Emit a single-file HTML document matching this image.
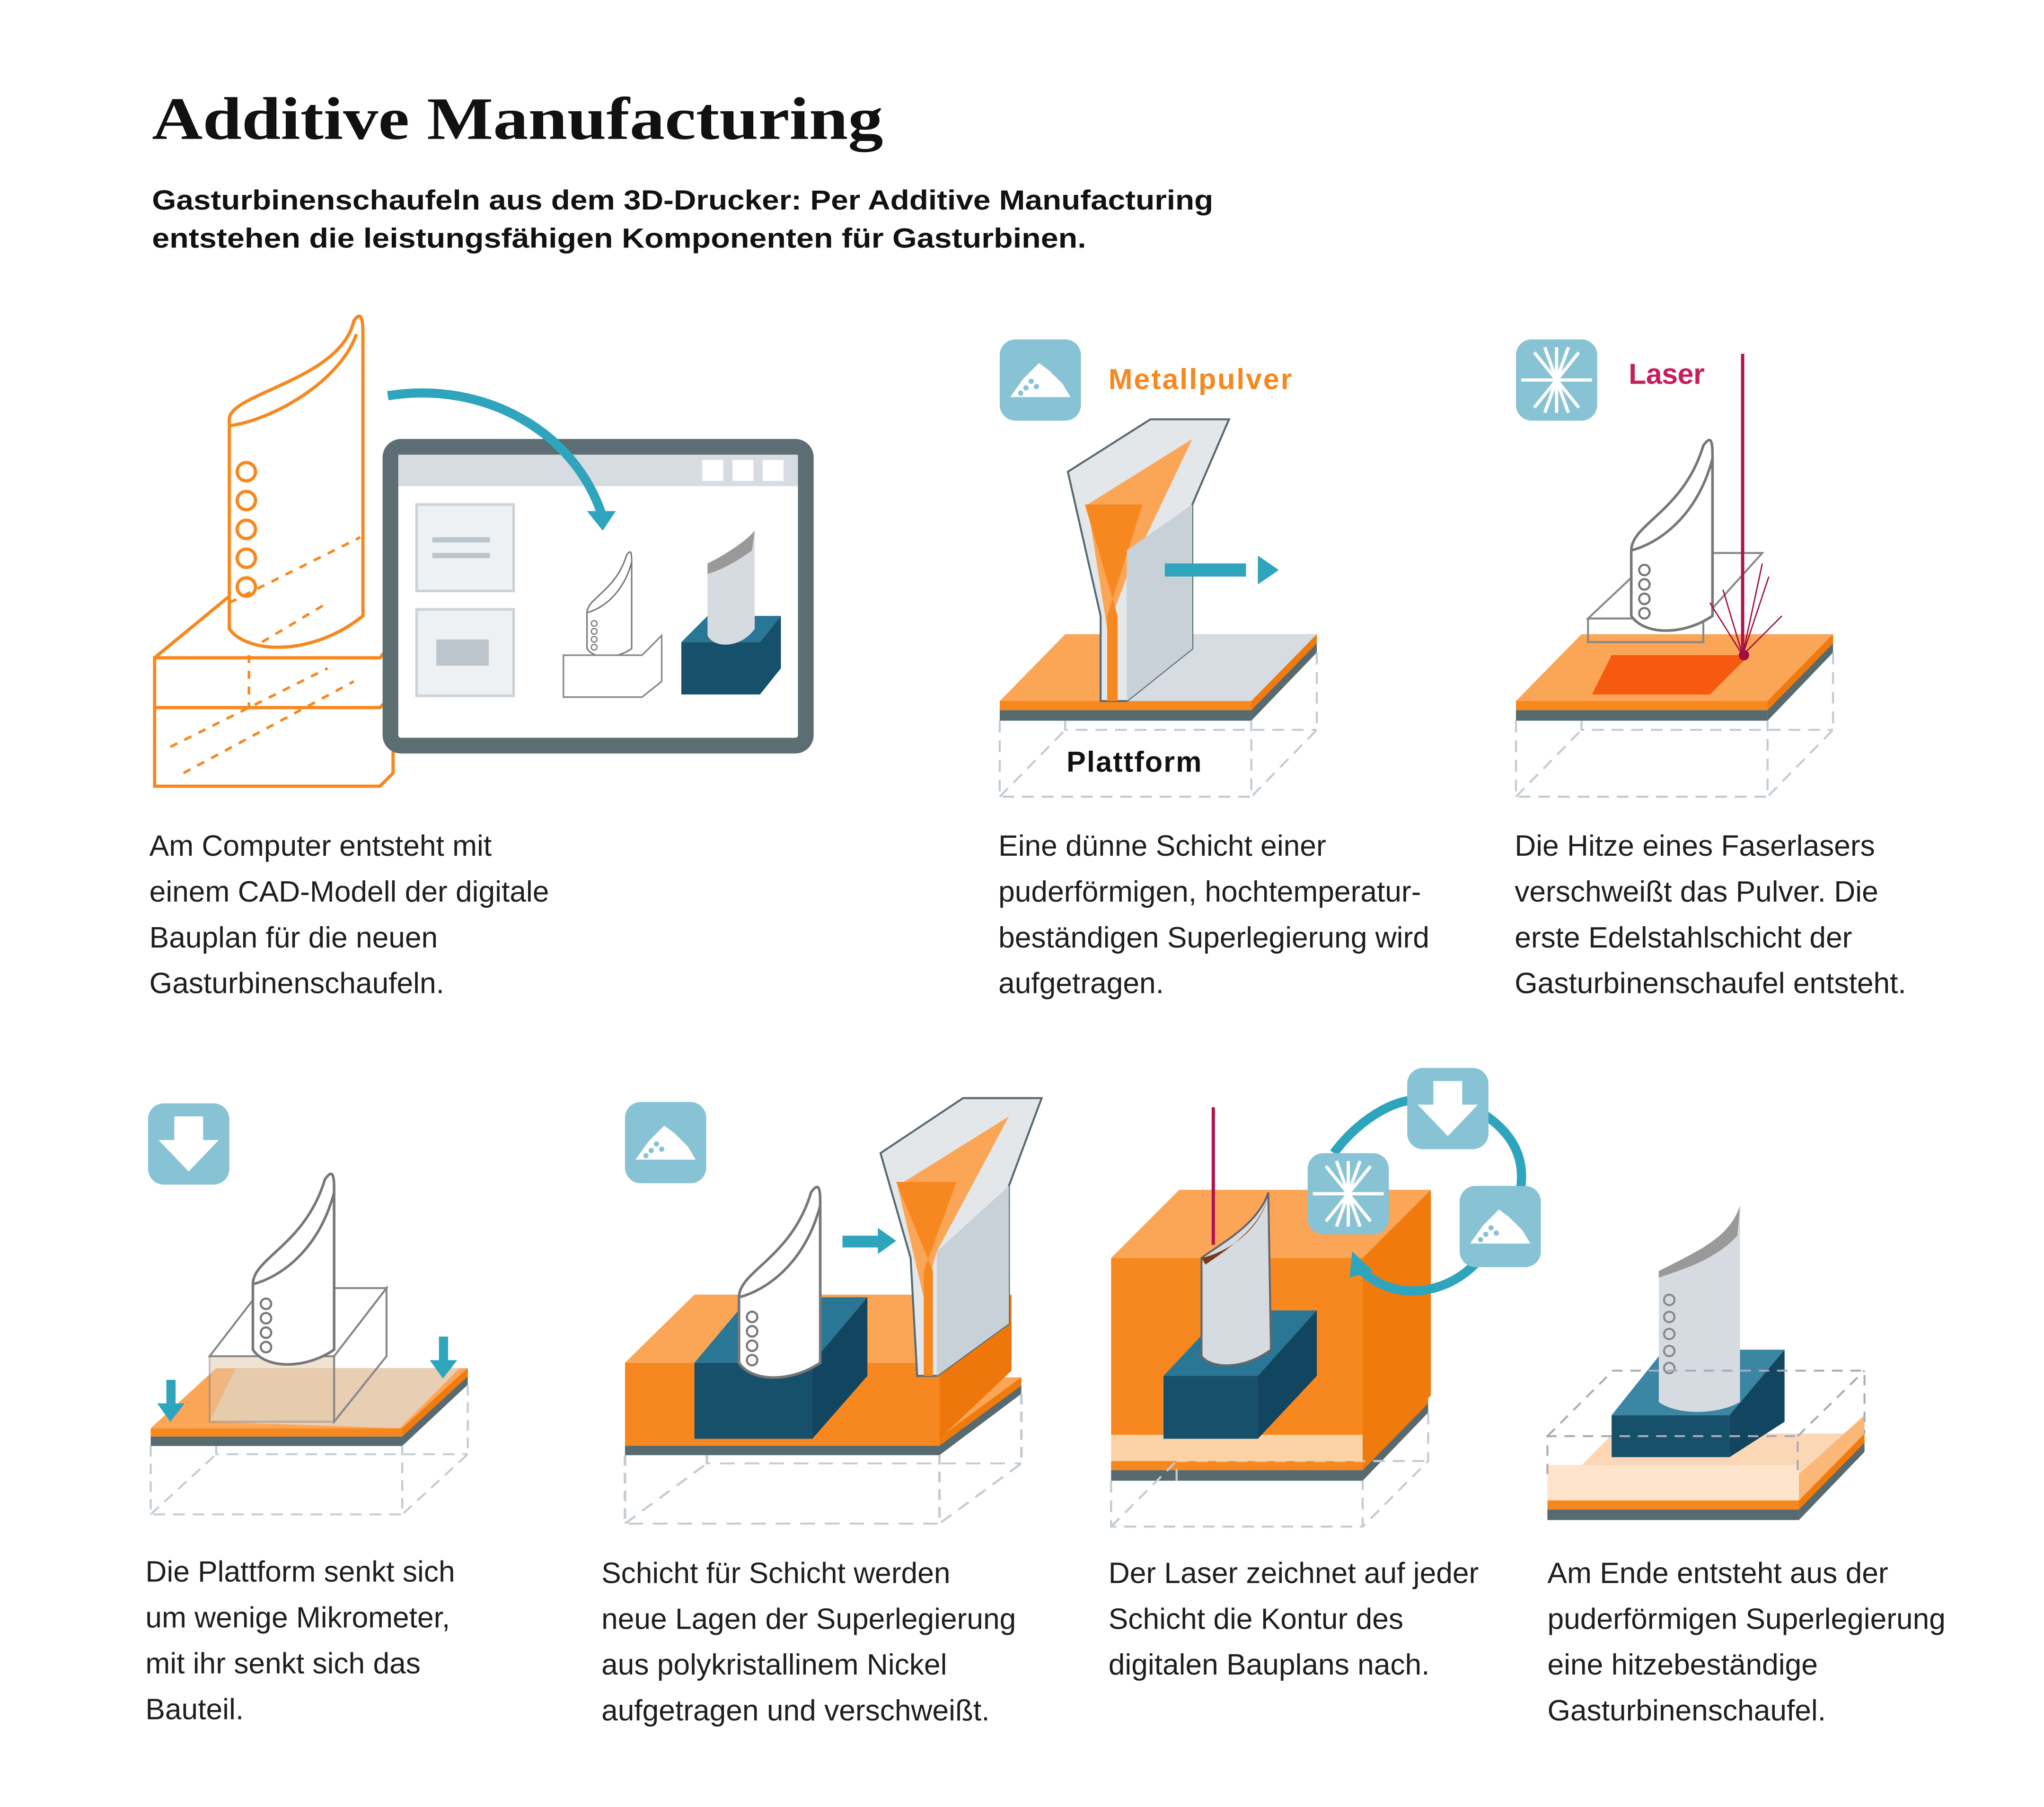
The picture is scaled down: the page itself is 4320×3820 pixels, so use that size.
<!DOCTYPE html>
<html><head><meta charset="utf-8"><style>
html,body{margin:0;padding:0;background:#fff;}
svg{display:block;}
.t{font-family:"Liberation Sans",sans-serif;font-size:22.5px;fill:#1e1e1e;}
</style></head><body>
<svg width="4320" height="3820" viewBox="0 0 1560 1379" preserveAspectRatio="none" xmlns="http://www.w3.org/2000/svg">
<defs>
<g id="platb">
<polygon points="0,0 192,0 242,-51 50,-51" fill="#fba557"/>
<rect x="0" y="0" width="192" height="7" fill="#f7881f"/>
<rect x="0" y="7" width="192" height="8" fill="#566a70"/>
<polygon points="192,0 242,-51 242,-37 192,15" fill="#566a70"/>
<polygon points="192,0 242,-51 242,-44 192,7" fill="#f07a0c"/>
</g>
<g id="plat">
<use href="#platb"/>
<g fill="none" stroke="#c3ccd3" stroke-width="1.6" stroke-dasharray="9,6">
<polyline points="0,15 0,73 192,73 192,15"/>
<polyline points="242,-37 242,22 192,73"/>
<polyline points="50,15 50,22 242,22"/>
<line x1="0" y1="73" x2="50" y2="22"/>
</g>
</g>
<g id="plats">
<use href="#platb"/>
<g fill="none" stroke="#c3ccd3" stroke-width="1.6" stroke-dasharray="9,6">
<polyline points="0,15 0,50 192,50 192,15"/>
<polyline points="242,-37 242,0 192,50"/>
<polyline points="50,15 50,0 242,0"/>
<line x1="0" y1="50" x2="50" y2="0"/>
</g>
</g>
<g id="blade" fill="#fff" stroke="#777" stroke-width="2">
<path d="M0,50 C0,30 40,20 55,-30 C62,-40 62,-30 62,-20 L62,100 C40,115 10,115 0,100 Z"/>
<path d="M0,50 C20,45 50,25 62,-20" fill="none"/>
<g fill="none" stroke-width="1.6"><circle cx="10" cy="65" r="4"/><circle cx="10" cy="76" r="4"/><circle cx="10" cy="87" r="4"/><circle cx="10" cy="98" r="4"/></g>
</g>
<g id="icon"><rect x="0" y="0" width="62" height="62" rx="12" fill="#87c3d4"/></g>
<g id="pile"><path d="M8,44 L18,30 L30,18 L38,24 L48,34 L54,44 Z" fill="#fff"/><g fill="#87c3d4"><circle cx="24" cy="32" r="2"/><circle cx="20" cy="37" r="2"/><circle cx="28" cy="36" r="2"/><circle cx="16" cy="41" r="2"/></g></g>
<g id="star" stroke="#fff" stroke-width="2.5"><line x1="4" y1="31" x2="58" y2="31"/><line x1="31" y1="6" x2="31" y2="56"/><line x1="14" y1="10" x2="48" y2="52"/><line x1="48" y1="10" x2="14" y2="52"/><line x1="22" y1="6" x2="40" y2="56"/><line x1="40" y1="6" x2="22" y2="56"/></g>
<g id="down"><rect x="0" y="0" width="62" height="62" rx="12" fill="#87c3d4"/><polygon points="20,10 42,10 42,28 54,28 31,52 8,28 20,28" fill="#fff"/></g>
</defs>

<text x="116" y="106" font-family="Liberation Serif,serif" font-weight="bold" font-size="46" fill="#111" textLength="558" lengthAdjust="spacingAndGlyphs">Additive Manufacturing</text>
<text x="116" y="160" font-family="Liberation Sans,sans-serif" font-weight="bold" font-size="21" fill="#111" textLength="810" lengthAdjust="spacingAndGlyphs">Gasturbinenschaufeln aus dem 3D-Drucker: Per Additive Manufacturing</text>
<text x="116" y="189" font-family="Liberation Sans,sans-serif" font-weight="bold" font-size="21" fill="#111" textLength="713" lengthAdjust="spacingAndGlyphs">entstehen die leistungsfähigen Komponenten für Gasturbinen.</text>

<!-- Panel 1 -->
<g fill="none" stroke="#f7881f" stroke-width="2.5">
<path d="M175,320 C175,300 260,290 270,245 C276,236 277,245 277,255 L277,470 C240,500 190,500 175,480 Z"/>
<path d="M175,325 C210,320 260,290 272,255"/>
<circle cx="188" cy="360" r="7"/><circle cx="188" cy="382" r="7"/><circle cx="188" cy="404" r="7"/><circle cx="188" cy="426" r="7"/><circle cx="188" cy="448" r="7"/>
<polygon points="118,502 290,502 300,490 300,530 290,540 118,540"/>
<polyline points="118,502 175,455 M277,455 300,455 300,490"/>
<path d="M118,540 L118,600 L290,600 L300,590 L300,540"/>
<g stroke-dasharray="6,6" stroke-width="2"><path d="M175,460 L275,410 M200,490 L250,460 M130,570 L250,510 M140,590 L270,520 M190,500 L190,540"/></g>
</g>
<rect x="298" y="341" width="317" height="228" rx="8" fill="#fff" stroke="#5d6d74" stroke-width="12"/>
<rect x="304" y="347" width="305" height="24" fill="#d6dce1"/>
<rect x="536" y="351" width="16" height="16" fill="#fff"/><rect x="559" y="351" width="16" height="16" fill="#fff"/><rect x="582" y="351" width="16" height="16" fill="#fff"/>
<rect x="318" y="385" width="74" height="66" fill="#eef1f3" stroke="#ccd3d8" stroke-width="2"/>
<rect x="330" y="410" width="44" height="4" fill="#bcc5cc"/><rect x="330" y="422" width="44" height="4" fill="#bcc5cc"/>
<rect x="318" y="465" width="74" height="66" fill="#eef1f3" stroke="#ccd3d8" stroke-width="2"/>
<rect x="333" y="488" width="40" height="20" fill="#bcc5cc"/>
<path d="M296,302 C370,290 440,330 460,395" fill="none" stroke="#2fa5bd" stroke-width="7"/>
<polygon points="448,390 470,390 460,405" fill="#2fa5bd"/>
<g transform="translate(448,440) scale(0.55)" ><use href="#blade"/></g>
<polygon points="430,500 490,500 505,485 505,520 490,532 430,532" fill="#fff" stroke="#888" stroke-width="1.2"/>
<polygon points="520,490 580,490 596,470 596,510 580,530 520,530" fill="#17506a"/>
<polygon points="520,490 580,490 596,470 540,470" fill="#2a7795"/>
<path d="M540,430 C560,420 572,410 576,405 L576,480 C565,495 545,495 540,485 Z" fill="#d5dbe0"/>
<path d="M540,430 C560,420 572,410 576,405 L574,420 C560,430 550,435 540,438Z" fill="#999"/>

<!-- Panel 2 -->
<use href="#icon" x="763" y="259"/><use href="#pile" x="763" y="259"/>
<text x="846" y="297" font-family="Liberation Sans,sans-serif" font-weight="bold" font-size="22" fill="#f7881f" textLength="140">Metallpulver</text>
<use href="#plat" x="763" y="535"/>
<polygon points="855,535 955,535 1005,484 905,484" fill="#d6dce1"/>
<polygon points="815,360 878,320 938,320 910,385 910,495 860,535 840,535 840,470" fill="#e3e7ea" stroke="#566a70" stroke-width="1.5"/>
<polygon points="830,385 910,335 860,440 845,480" fill="#fba557"/>
<polygon points="828,385 872,385 845,470 845,535 853,535 853,470" fill="#f7881f"/>
<polygon points="860,420 910,385 910,495 860,535" fill="#c8d0d8"/>
<rect x="889" y="430" width="62" height="10" fill="#2fa5bd"/><polygon points="960,424 976,435 960,446" fill="#2fa5bd"/>
<text x="814" y="589" font-family="Liberation Sans,sans-serif" font-weight="bold" font-size="22" fill="#111" textLength="103">Plattform</text>

<!-- Panel 3 -->
<use href="#icon" x="1157" y="259"/><use href="#star" x="1157" y="259"/>
<text x="1243" y="293" font-family="Liberation Sans,sans-serif" font-weight="bold" font-size="22" fill="#c41f5a" textLength="58">Laser</text>
<use href="#plat" x="1157" y="535"/>
<polygon points="1215,530 1305,530 1335,500 1230,500" fill="#f55a0f"/>
<polygon points="1212,472 1300,472 1345,422 1265,422" fill="#fff" stroke="#888" stroke-width="1.5"/>
<polygon points="1212,472 1300,472 1300,490 1212,490" fill="none" stroke="#888" stroke-width="1.5"/>
<g transform="translate(1245,370)"><use href="#blade"/></g>
<line x1="1330" y1="270" x2="1330" y2="500" stroke="#b0124f" stroke-width="2.5"/>
<g stroke="#a0103f" stroke-width="1"><line x1="1330" y1="500" x2="1350" y2="440"/><line x1="1330" y1="500" x2="1305" y2="460"/><line x1="1330" y1="500" x2="1360" y2="470"/><line x1="1330" y1="500" x2="1315" y2="450"/><line x1="1330" y1="500" x2="1345" y2="430"/></g>
<circle cx="1331" cy="500" r="4" fill="#a0103f"/>

<!-- Bottom 1 -->
<use href="#down" x="113" y="842"/>
<g transform="translate(115,1090) scale(1,0.9)"><use href="#plat"/></g>
<polygon points="160,1085 305,1090 351,1044 180,1044" fill="#e6d3bd" opacity="0.9"/>
<polygon points="160,1035 255,1035 295,983 200,983" fill="#fff" stroke="#888" stroke-width="1.5"/>
<polygon points="160,1035 255,1035 255,1085 160,1085" fill="#e5c9a8" opacity="0.5" stroke="#888" stroke-width="1.5"/>
<polygon points="255,1035 295,983 295,1035 255,1085" fill="none" stroke="#888" stroke-width="1.5"/>
<g transform="translate(193,930)"><use href="#blade"/></g>
<rect x="127" y="1053" width="7" height="22" fill="#2fa5bd"/><polygon points="120,1071 141,1071 130,1085" fill="#2fa5bd"/>
<rect x="335" y="1020" width="7" height="22" fill="#2fa5bd"/><polygon points="328,1038 349,1038 338,1052" fill="#2fa5bd"/>

<!-- Bottom 2 -->
<use href="#icon" x="477" y="841"/><use href="#pile" x="477" y="841"/>
<g transform="translate(477,1097) scale(1.25,0.9)"><use href="#plat"/></g>
<polygon points="477,1040 717,1040 772,988 530,988" fill="#fba557"/>
<rect x="477" y="1040" width="240" height="58" fill="#f7881f"/>
<polygon points="717,1040 772,988 772,1046 717,1098" fill="#ee760a"/>
<polygon points="530,1040 620,1040 662,990 572,990" fill="#2a7795"/>
<polygon points="530,1040 620,1040 620,1098 530,1098" fill="#17506a"/>
<polygon points="620,1040 662,990 662,1050 620,1098" fill="#124660"/>
<g transform="translate(564,940)"><use href="#blade"/></g>
<polygon points="672,880 735,838 795,838 770,905 770,1010 715,1050 700,1050 695,960" fill="#e3e7ea" stroke="#566a70" stroke-width="1.5"/>
<polygon points="685,905 770,852 715,955 705,990" fill="#fba557"/>
<polygon points="684,902 730,902 705,970 705,1050 712,1050 712,970" fill="#f7881f"/>
<polygon points="715,955 770,905 770,1010 715,1050" fill="#c8d0d8"/>
<rect x="643" y="943" width="28" height="9" fill="#2fa5bd"/><polygon points="670,937 684,947 670,957" fill="#2fa5bd"/>

<!-- Bottom 3 -->
<g transform="translate(848,1115)"><use href="#plats"/></g>
<polygon points="848,960 1040,960 1092,908 900,908" fill="#fba557"/>
<rect x="848" y="960" width="192" height="135" fill="#f7881f"/>
<rect x="848" y="1095" width="192" height="20" fill="#fdd2a6"/>
<polygon points="1040,960 1092,908 1092,1065 1040,1115" fill="#f07a0c"/>
<polygon points="888,1050 960,1050 1005,1000 935,1000" fill="#2a7795"/>
<polygon points="888,1050 960,1050 960,1098 888,1098" fill="#17506a"/>
<polygon points="960,1050 1005,1000 1005,1050 960,1098" fill="#124660"/>
<path d="M917,960 C930,950 960,935 968,910 L970,1030 C950,1045 925,1045 917,1035 Z" fill="#d5dbe0" stroke="#666" stroke-width="1.5"/>
<path d="M917,960 C940,955 965,935 968,910 C965,930 950,945 920,965 Z" fill="#7a3a15"/>
<line x1="926" y1="845" x2="926" y2="950" stroke="#b0124f" stroke-width="2.5"/>
<path d="M1035,965 C1060,995 1105,990 1130,960" fill="none" stroke="#2fa5bd" stroke-width="7"/>
<path d="M1018,880 C1040,850 1070,838 1080,840 M1132,850 C1155,865 1165,885 1160,910" fill="none" stroke="#2fa5bd" stroke-width="7"/>
<polygon points="1032,955 1048,970 1030,975" fill="#2fa5bd"/>
<use href="#down" x="1074" y="815"/>
<use href="#icon" x="998" y="880"/><use href="#star" x="998" y="880"/>
<use href="#icon" x="1114" y="905"/><use href="#pile" x="1114" y="905"/>

<!-- Bottom 4 -->
<use href="#platb" x="1181" y="1145"/>
<polygon points="1181,1145 1373,1145 1423,1094 1231,1094" fill="#fcd7b5"/>
<rect x="1181" y="1118" width="192" height="27" fill="#fde4cb"/>
<polygon points="1373,1145 1423,1094 1423,1080 1373,1125" fill="#fbb777"/>
<polygon points="1230,1080 1320,1080 1362,1030 1270,1030" fill="#3a86a3"/>
<polygon points="1230,1080 1320,1080 1320,1112 1230,1112" fill="#17506a"/>
<polygon points="1320,1080 1362,1030 1362,1085 1320,1112" fill="#124660"/>
<path d="M1266,970 C1295,955 1320,945 1328,920 L1328,1070 C1310,1080 1280,1080 1266,1070 Z" fill="#d5dbe0"/>
<path d="M1266,970 C1295,955 1320,945 1328,920 L1326,943 C1310,960 1290,967 1266,975Z" fill="#999"/>
<g fill="none" stroke="#888" stroke-width="1.5"><circle cx="1274" cy="992" r="4"/><circle cx="1274" cy="1005" r="4"/><circle cx="1274" cy="1018" r="4"/><circle cx="1274" cy="1031" r="4"/><circle cx="1274" cy="1044" r="4"/></g>
<g fill="none" stroke="#aab" stroke-width="1.5" stroke-dasharray="8,6"><polyline points="1181,1125 1181,1096 1372,1096 1372,1125"/><polyline points="1181,1096 1231,1046 1423,1046 1423,1094"/><line x1="1372" y1="1096" x2="1423" y2="1046"/></g>

<!-- captions -->
<g class="t">
<text x="114" y="653">Am Computer entsteht mit</text><text x="114" y="688">einem CAD-Modell der digitale</text><text x="114" y="723">Bauplan für die neuen</text><text x="114" y="758">Gasturbinenschaufeln.</text>
<text x="762" y="653">Eine dünne Schicht einer</text><text x="762" y="688">puderförmigen, hochtemperatur-</text><text x="762" y="723">beständigen Superlegierung wird</text><text x="762" y="758">aufgetragen.</text>
<text x="1156" y="653">Die Hitze eines Faserlasers</text><text x="1156" y="688">verschweißt das Pulver. Die</text><text x="1156" y="723">erste Edelstahlschicht der</text><text x="1156" y="758">Gasturbinenschaufel entsteht.</text>
<text x="111" y="1207">Die Plattform senkt sich</text><text x="111" y="1242">um wenige Mikrometer,</text><text x="111" y="1277">mit ihr senkt sich das</text><text x="111" y="1312">Bauteil.</text>
<text x="459" y="1208">Schicht für Schicht werden</text><text x="459" y="1243">neue Lagen der Superlegierung</text><text x="459" y="1278">aus polykristallinem Nickel</text><text x="459" y="1313">aufgetragen und verschweißt.</text>
<text x="846" y="1208">Der Laser zeichnet auf jeder</text><text x="846" y="1243">Schicht die Kontur des</text><text x="846" y="1278">digitalen Bauplans nach.</text>
<text x="1181" y="1208">Am Ende entsteht aus der</text><text x="1181" y="1243">puderförmigen Superlegierung</text><text x="1181" y="1278">eine hitzebeständige</text><text x="1181" y="1313">Gasturbinenschaufel.</text>
</g>
</svg>
</body></html>
